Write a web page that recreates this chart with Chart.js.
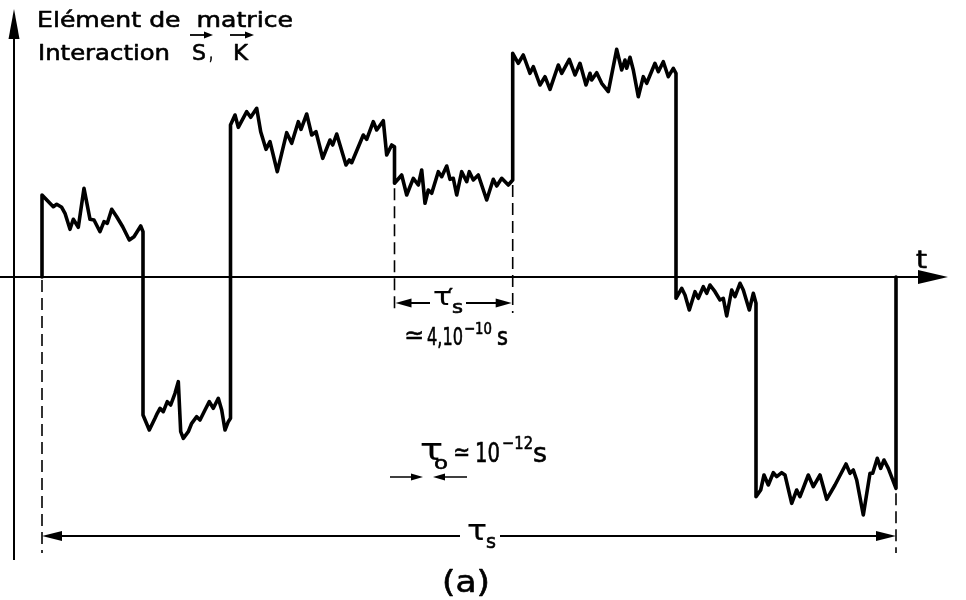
<!DOCTYPE html>
<html><head><meta charset="utf-8">
<script src="https://cdn.jsdelivr.net/npm/chart.js@4.4.0/dist/chart.umd.min.js"></script>
<style>html,body{margin:0;padding:0;background:#fff}#wrap{width:966px;height:600px;position:relative}</style>
</head><body><div id="wrap"><canvas id="c"></canvas></div>
<script>
// time in units of tau0, matrix element in arbitrary units
const t1=[0,0,1.13,1.47,1.97,2.3,2.8,3.13,3.63,4.2,4.8,5.2,5.8,6.2,6.53,6.97,7.47,8.07,8.73,9.2,9.87,10.1];
const v1=[0,8.2,7.03,7.27,6.97,6.37,4.77,5.77,4.97,8.87,5.77,5.7,4.53,5.53,5.37,6.77,6.03,5.03,3.7,4.03,5.1,4.53];
const t2=[10.1,10.73,11.3,11.53,11.8,12.13,12.53,12.87,13.3,13.63,13.87,14.13,14.63,14.97,15.47,15.8,16.3,16.73,17.13,17.63,17.97,18.3,18.63,18.85];
const v2=[-13.8,-15.3,-14.13,-13.63,-13.13,-13.47,-12.47,-12.8,-11.63,-10.47,-15.47,-16.13,-15.47,-14.63,-13.97,-14.3,-13.3,-12.47,-13.13,-12.13,-13.3,-15.3,-14.47,-14.13];
const t3=[18.85,19.3,19.63,20.47,20.87,21.47,21.87,22.4,22.8,23.53,24.47,24.97,25.63,25.9,26.47,26.97,27.4,28.07,28.8,29.07,29.47,30.4,30.73,30.97,32.13,32.47,33.13,33.47,34.13,34.47,34.97,35.25];
const v3=[15.2,16.2,14.97,16.53,15.97,16.87,14.53,12.77,13.53,10.53,14.43,13.37,15.53,14.77,16.3,14.2,14.53,11.87,13.7,13.2,14.3,11.2,11.7,11.43,14.2,13.77,15.53,14.7,15.63,12.2,13.2,13.03];
const t4=[35.25,35.97,36.47,37.13,37.63,37.97,38.3,38.63,38.97,39.63,39.97,40.47,40.8,41.13,41.47,41.97,42.47,42.73,43.13,43.63,44.47,45.13,45.47,45.97,46.63,47.07];
const v4=[9.37,10.2,8.2,9.87,9.2,10.7,7.37,8.7,8.37,10.53,10.03,11.1,9.77,9.87,8.2,10.53,9.53,10.53,9.7,10.2,7.7,9.77,9.1,9.87,9.2,9.7];
const t5=[47.07,47.63,48.13,48.8,49.13,49.8,50.3,50.8,51.63,51.97,52.73,53.3,53.8,54.4,54.8,54.97,55.47,55.97,56.63,57.47,57.97,58.3,58.47,58.8,59.13,59.63,60.13,60.47,61.3,61.63,62.13,62.63,63.13,63.4];
const v5=[22.37,21.37,22.2,20.37,21.03,19.2,20.03,18.77,21.2,20.37,21.77,20.2,21.37,19.2,20.37,19.7,20.43,19.37,18.53,22.77,20.7,21.7,20.87,21.97,20.7,18.03,20.03,19.37,21.37,20.53,21.53,20.03,20.87,20.37];
const t6=[63.4,63.97,64.3,64.73,65.3,65.63,66.13,66.47,66.8,67.3,67.8,68.13,68.47,68.97,69.3,69.8,70.13,70.73,71.13,71.4];
const v6=[-2.13,-1.13,-1.8,-3.3,-1.47,-2.13,-0.97,-1.63,-0.8,-1.47,-2.3,-2.13,-3.9,-1.3,-1.97,-0.63,-1.3,-3.3,-1.63,-2.63];
const t7=[71.4,71.87,72.2,72.63,73.13,73.47,73.97,74.3,74.97,75.47,75.8,76.63,77.13,77.8,78.47,79.3,80.4,80.8,81.13,81.47,82.13,82.8,83.07,83.53,83.87,84.2,84.63,85.4,85.4];
const v7=[-21.97,-21.3,-19.8,-20.8,-19.57,-19.97,-19.57,-19.8,-22.63,-21.3,-21.97,-19.8,-20.97,-19.8,-22.23,-20.8,-18.7,-19.63,-19.3,-20.3,-23.8,-19.63,-19.63,-18.13,-19.13,-18.3,-19.13,-21.13,0];
// marked intervals
const tauS=[0,85.4];
const tauSp=[35.25,47.07];
const tau0=[38.1,39.1];

const segT=[t1,t2,t3,t4,t5,t6,t7], segV=[v1,v2,v3,v4,v5,v6,v7];
const pts=[];
segT.forEach((ts,i)=>ts.forEach((t,j)=>pts.push({x:t,y:segV[i][j]})));

function head(ctx,x,y,dx,dy,len,hw){
  ctx.beginPath();
  ctx.moveTo(x,y);
  ctx.lineTo(x-dx*len-dy*hw,y-dy*len+dx*hw);
  ctx.lineTo(x-dx*len+dy*hw,y-dy*len-dx*hw);
  ctx.closePath();ctx.fill();
}
function txt(ctx,s,x,y,size,w,bold){
  ctx.save();
  ctx.font=size+'px "DejaVu Sans"';
  ctx.textAlign='left';ctx.textBaseline='alphabetic';
  const m=ctx.measureText(s).width;
  ctx.translate(x,y);
  if(w) ctx.scale(w/m,1);
  ctx.lineWidth=bold===false?0.2:0.6;ctx.lineJoin='round';
  ctx.fillText(s,0,0);ctx.strokeText(s,0,0);
  ctx.restore();
}
const ink='#000';
const plug={
  id:'ann',
  beforeDatasetsDraw(chart){
    const {ctx,scales:{x,y}}=chart;
    const X=v=>x.getPixelForValue(v),Y=v=>y.getPixelForValue(v);
    ctx.save();
    ctx.strokeStyle=ink;ctx.fillStyle=ink;ctx.lineWidth=2;
    // y axis
    ctx.beginPath();ctx.moveTo(X(-2.8),Y(-28.3));ctx.lineTo(X(-2.8),Y(25));ctx.stroke();
    head(ctx,X(-2.8),Y(26.8),0,-1,30,5.5);
    // x axis
    ctx.beginPath();ctx.moveTo(X(-4.2),Y(0));ctx.lineTo(X(88.5),Y(0));ctx.stroke();
    head(ctx,X(90.6),Y(0),1,0,30,7);
    // dashed guides
    ctx.setLineDash([12,6]);ctx.lineWidth=1.6;
    const dl=(t,a,b)=>{ctx.beginPath();ctx.moveTo(X(t),Y(a));ctx.lineTo(X(t),Y(b));ctx.stroke();};
    dl(tauS[0],-0.3,-27.6);
    dl(tauS[1],v7[v7.length-2]-0.5,-27.6);
    dl(tauSp[0],v4[0]-0.5,-3.6);
    dl(tauSp[1],v4[v4.length-1]-0.5,-3.6);
    ctx.setLineDash([]);
    ctx.restore();
  },
  afterDatasetsDraw(chart){
    const {ctx,scales:{x,y}}=chart;
    const X=v=>x.getPixelForValue(v),Y=v=>y.getPixelForValue(v);
    ctx.save();
    ctx.strokeStyle=ink;ctx.fillStyle=ink;ctx.lineWidth=1.8;
    // tau_s double arrow
    let yy=Y(-25.9);
    ctx.beginPath();ctx.moveTo(X(tauS[0])+10,yy);ctx.lineTo(460,yy);ctx.moveTo(500,yy);ctx.lineTo(X(tauS[1])-10,yy);ctx.stroke();
    head(ctx,X(tauS[0]),yy,-1,0,20,5);head(ctx,X(tauS[1]),yy,1,0,20,5);
    // tau_s' double arrow
    yy=Y(-2.6);
    ctx.beginPath();ctx.moveTo(X(tauSp[0])+8,yy);ctx.lineTo(430,yy);ctx.moveTo(466,yy);ctx.lineTo(X(tauSp[1])-8,yy);ctx.stroke();
    head(ctx,X(tauSp[0])+1,yy,-1,0,16,4.5);head(ctx,X(tauSp[1])-1,yy,1,0,16,4.5);
    // tau0 inward arrows
    yy=Y(-20);ctx.lineWidth=1.6;
    ctx.beginPath();ctx.moveTo(X(tau0[0]-3.3),yy);ctx.lineTo(X(tau0[0])-6,yy);ctx.moveTo(X(tau0[1]+3.4),yy);ctx.lineTo(X(tau0[1])+6,yy);ctx.stroke();
    head(ctx,X(tau0[0]),yy,1,0,12,3.5);head(ctx,X(tau0[1]),yy,-1,0,12,3.5);
    // heading
    txt(ctx,'Elément de  matrice',37,27,22,256);
    txt(ctx,'Interaction',38,60,22,132);
    txt(ctx,'S',192,60,22,14);txt(ctx,',',209,60,22,4);txt(ctx,'K',233,60,22,15);
    ctx.lineWidth=1.8;
    [[190,213],[230,254]].forEach(([a,b])=>{ctx.beginPath();ctx.moveTo(a,35);ctx.lineTo(b-6,35);ctx.stroke();head(ctx,b,35,1,0,9,3.5);});
    txt(ctx,'t',916,268,24,11);
    // tau_s' labels
    txt(ctx,'τ',433,305,24,19,false);txt(ctx,'′',448,302,20,5);txt(ctx,'s',452,313,18,11);
    txt(ctx,'≃',404,343,24,20);txt(ctx,'4,10',427,345,24,36);txt(ctx,'−10',464,334,16,28);txt(ctx,'s',497,345,24,11);
    // tau0 label
    txt(ctx,'τ',420,460,30,23,false);txt(ctx,'o',434,469,18,14);
    txt(ctx,'≃',453,460,24,17);txt(ctx,'10',475,462,26,25);txt(ctx,'−12',502,449,18,31);txt(ctx,'s',533,462,26,14);
    // tau_s label
    txt(ctx,'τ',467,540,28,20,false);txt(ctx,'s',486,548,20,10);
    txt(ctx,'(a)',442,592,30,48);
    ctx.restore();
  }
};
new Chart(document.getElementById('c'),{
  type:'scatter',
  data:{datasets:[{data:pts,showLine:true,borderColor:ink,borderWidth:3.6,pointRadius:0,tension:0,borderJoinStyle:'round',borderCapStyle:'round'}]},
  options:{
    responsive:true,maintainAspectRatio:false,animation:false,
    layout:{padding:0},
    plugins:{legend:{display:false},tooltip:{enabled:false}},
    scales:{
      x:{type:'linear',min:-4.2,max:92.4,display:false},
      y:{type:'linear',min:-32.3,max:27.7,display:false}
    }
  },
  plugins:[plug]
});
</script></body></html>
